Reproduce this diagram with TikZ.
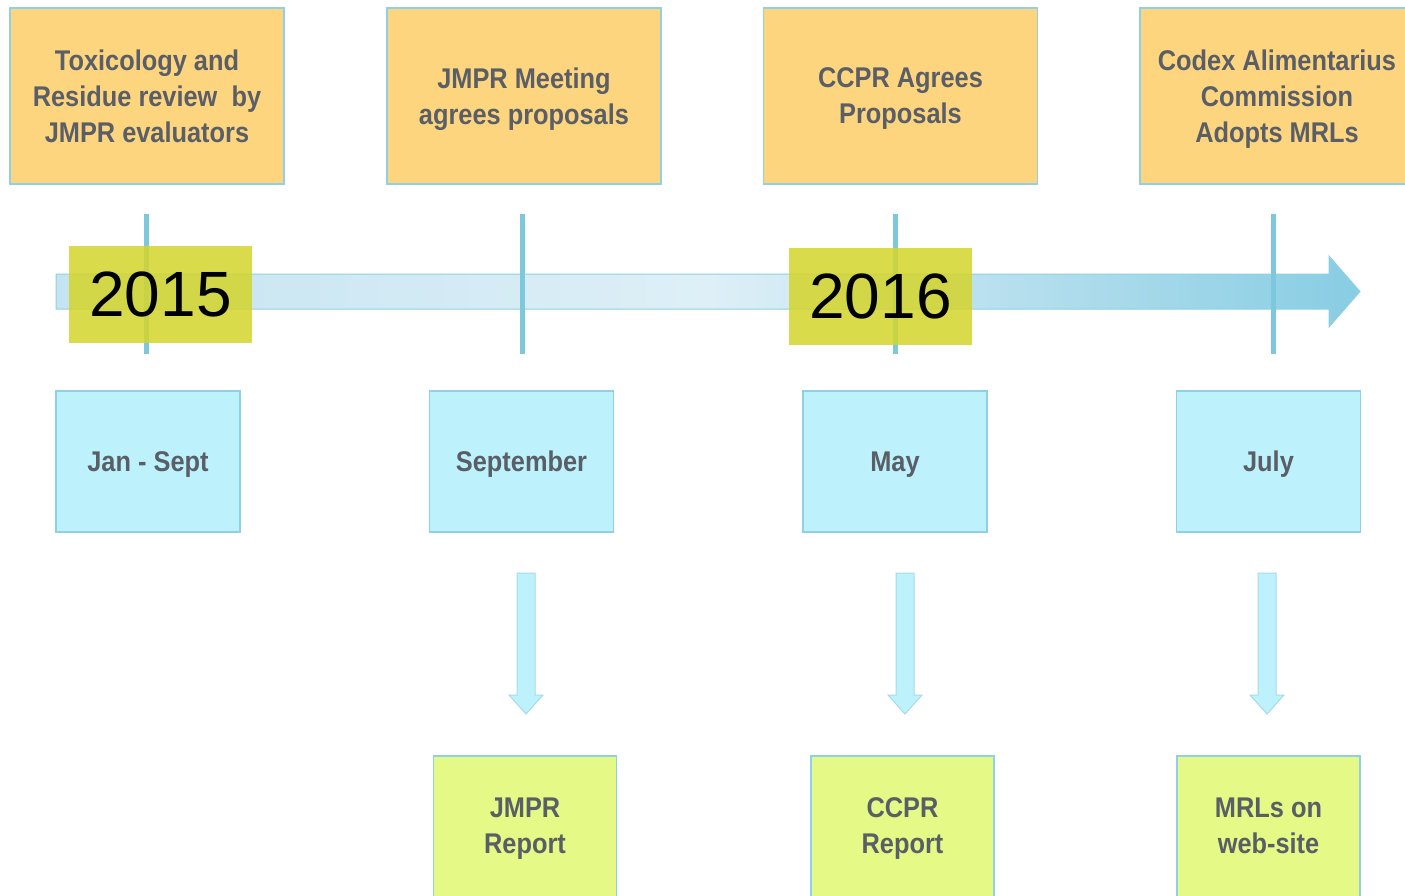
\documentclass[tikz,border=0pt]{standalone}
\usepackage{fontspec}
\setmainfont{Liberation Sans}
\newfontfamily\lblfont[FakeStretch=0.89]{Liberation Sans}
\usetikzlibrary{calc}

\definecolor{edgeblue}{RGB}{143,208,228}
\definecolor{orangefill}{RGB}{253,213,127}
\definecolor{cyanfill}{RGB}{189,242,253}
\definecolor{greenfill}{RGB}{228,249,134}
\definecolor{yearfill}{RGB}{212,213,44}
\definecolor{labelgray}{RGB}{90,94,102}
\definecolor{tickblue}{RGB}{126,200,222}
\definecolor{shaftleft}{RGB}{196,228,241}
\definecolor{shaftmid}{RGB}{222,239,247}
\definecolor{shaftright}{RGB}{136,205,227}

% block arrow pointing down: x, top y, tip y
\newcommand\dropshape[3]{%
  \draw[edgeblue!80, line width=1pt, fill=cyanfill]
    (#1-9,#2) -- (#1+9,#2) -- (#1+9,#3-19) -- (#1+17,#3-19) -- (#1,#3)
    -- (#1-17,#3-19) -- (#1-9,#3-19) -- cycle;}

\begin{document}
\begin{tikzpicture}[x=1pt,y=-1pt,
  boxbase/.style={draw=edgeblue, line width=1.2pt, inner sep=0pt, align=center,
    text=labelgray, text depth=0pt, font=\lblfont\bfseries\fontsize{28.5}{36}\selectfont},
  stagebox/.style={boxbase, fill=orangefill, minimum width=274pt, minimum height=176pt},
  monthbox/.style={boxbase, fill=cyanfill, minimum width=184pt, minimum height=141pt},
  outbox/.style={boxbase, fill=greenfill, minimum width=183pt, minimum height=176pt},
  outlabel/.style={inner sep=0pt, align=center, text=labelgray, text depth=0pt,
    font=\lblfont\bfseries\fontsize{28.5}{36}\selectfont},
  yearbox/.style={fill=yearfill, fill opacity=0.86, text opacity=1, text=black,
    minimum width=183pt, minimum height=97pt, inner sep=0pt,
    font=\fontsize{64}{70}\selectfont},
  tick/.style={tickblue, line width=5pt}
]
\useasboundingbox (0,0) rectangle (1405,895);
\clip (0,0) rectangle (1405,895);

% stage boxes along the top
\node[stagebox] (tox)   at (147,96)    {Toxicology and\\Residue review\ \ by\\JMPR evaluators};
\node[stagebox] (jmpr)  at (524,96)    {JMPR Meeting\\agrees proposals};
\node[stagebox] (ccpr)  at (900.5,96)  {CCPR Agrees\\Proposals};
\node[stagebox] (codex) at (1277,96)   {Codex Alimentarius\\Commission\\Adopts MRLs};

% time axis
\shade[left color=shaftleft, right color=shaftright, middle color=shaftmid,
       draw=edgeblue, line width=1pt]
  (56,274) -- (1329,274) -- (1329,256) -- (1360,291.5) -- (1329,327)
  -- (1329,309) -- (56,309) -- cycle;

\draw[tick] (146,214) -- (146,354);
\draw[tick] (522,214) -- (522,354);
\draw[tick] (895.5,214) -- (895.5,354);
\draw[tick] (1273,214) -- (1273,354);

\node[yearbox] (y2015) at (160.5,294.5) {2015};
\node[yearbox] (y2016) at (880.5,296.5) {2016};

% months
\node[monthbox] (m1) at (148,461.5)    {Jan - Sept};
\node[monthbox] (m2) at (521.5,461.5)  {September};
\node[monthbox] (m3) at (895,461.5)    {May};
\node[monthbox] (m4) at (1268.5,461.5) {July};

% outputs
\node[outbox] (o2) at (525,844)    {};
\node[outbox] (o3) at (902.5,844)  {};
\node[outbox] (o4) at (1268.5,844) {};
\node[outlabel] (o2t) at (525,826)    {JMPR\\Report};
\node[outlabel] (o3t) at (902.5,826)  {CCPR\\Report};
\node[outlabel] (o4t) at (1268.5,826) {MRLs on\\web-site};

% arrows from months to outputs
\dropshape{526}{573}{714}
\dropshape{905}{573}{714}
\dropshape{1267}{573}{714}
\end{tikzpicture}
\end{document}
